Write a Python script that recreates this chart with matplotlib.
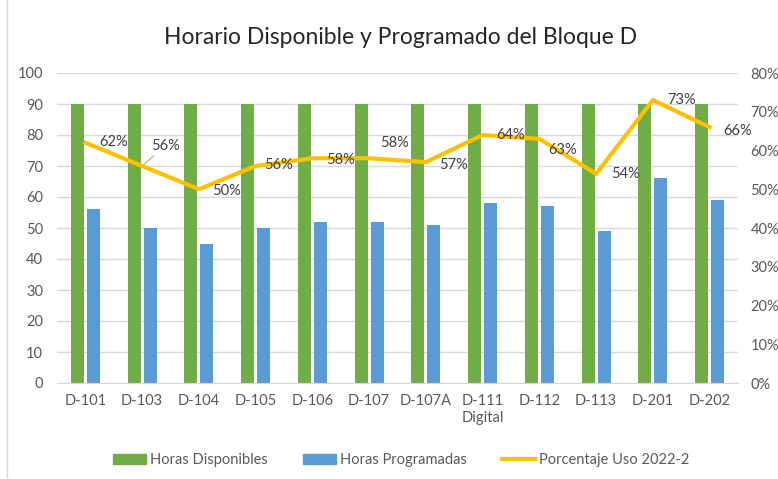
import matplotlib

matplotlib.use("Agg")
import matplotlib.pyplot as plt
from matplotlib.lines import Line2D
from matplotlib.ticker import PercentFormatter

salones = ["D-101", "D-103", "D-104", "D-105", "D-106", "D-107", "D-107A",
           "D-111\nDigital", "D-112", "D-113", "D-201", "D-202"]
horas_disponibles = [90, 90, 90, 90, 90, 90, 90, 90, 90, 90, 90, 90]
horas_programadas = [56, 50, 45, 50, 52, 52, 51, 58, 57, 49, 66, 59]
porcentaje_uso = [0.62, 0.56, 0.50, 0.56, 0.58, 0.58, 0.57, 0.64, 0.63, 0.54, 0.73, 0.66]

# label offsets in pixels (dx, dy)
label_offsets = [(28, 1), (23, 20), (28, -2), (23, 1), (28, -2), (25, 15),
                 (28, -3), (28, 0), (23, -11), (29, 0), (29, 0), (28, -4)]

GREEN = "#70AD47"
BLUE = "#5B9BD5"
YELLOW = "#FFC000"
TXT = "#595959"

plt.rcParams["font.family"] = ["Lato", "DejaVu Sans"]

fig = plt.figure(figsize=(7.78, 4.79), dpi=100)
ax = fig.add_axes([57 / 778, 1 - 383 / 479, (738 - 57) / 778, (383 - 73) / 479])
ax2 = ax.twinx()

x = list(range(len(salones)))
w = 0.23
ax.bar([i - 0.14 for i in x], horas_disponibles, width=w, color=GREEN,
       label="Horas Disponibles", zorder=2)
ax.bar([i + 0.14 for i in x], horas_programadas, width=w, color=BLUE,
       label="Horas Programadas", zorder=2)

ax.set_xlim(-0.5, len(salones) - 0.5)
ax.set_ylim(0, 100)
ax.set_yticks(range(0, 101, 10))
ax.set_xticks(x)
ax.set_xticklabels(salones, fontsize=10.5, color=TXT, linespacing=1.3)
ax.tick_params(axis="both", length=0, labelsize=10.5, colors=TXT)
ax.tick_params(axis="x", pad=8)
ax.tick_params(axis="y", pad=10)
ax.grid(axis="y", color="#D9D9D9", linewidth=1, zorder=0)
ax.set_axisbelow(True)
for s in ["top", "left", "right"]:
    ax.spines[s].set_visible(False)
ax.spines["bottom"].set_color("#D9D9D9")

ax2.plot(x, porcentaje_uso, color=YELLOW, linewidth=3, label="Porcentaje Uso 2022-2",
         solid_joinstyle="miter", zorder=3)
ax2.set_ylim(0, 0.8)
ax2.set_yticks([i / 10 for i in range(0, 9)])
ax2.yaxis.set_major_formatter(PercentFormatter(1.0, decimals=0))
ax2.tick_params(axis="y", length=0, labelsize=10.5, colors=TXT, pad=9)
for s in ["top", "left", "right", "bottom"]:
    ax2.spines[s].set_visible(False)

for i, (v, off) in enumerate(zip(porcentaje_uso, label_offsets)):
    props = None
    if i == 1:
        props = dict(arrowstyle="-", color="#A6A6A6", linewidth=0.8,
                     shrinkA=0, shrinkB=2)
    ax2.annotate(f"{v:.0%}", (i, v), xytext=off, textcoords="offset pixels",
                 ha="center", va="center", fontsize=10.5, color="#404040",
                 arrowprops=props, zorder=4)

fig.suptitle("Horario Disponible y Programado del Bloque D", x=401 / 778, y=1 - 38 / 479,
             va="center", fontsize=16.5, color="#262626")

handles = [
    plt.Rectangle((0, 0), 1, 1, color=GREEN),
    plt.Rectangle((0, 0), 1, 1, color=BLUE),
    Line2D([0], [0], color=YELLOW, linewidth=3),
]
labels = ["Horas Disponibles", "Horas Programadas", "Porcentaje Uso 2022-2"]
leg = fig.legend(handles, labels, loc="center", bbox_to_anchor=(401 / 778, 1 - 460 / 479),
                 ncol=3, frameon=False, fontsize=10.5, handlelength=2.3, handleheight=0.65,
                 columnspacing=2.4, handletextpad=0.25)
for t in leg.get_texts():
    t.set_color(TXT)

fig.add_artist(Line2D([7 / 778, 7 / 778], [0.005, 1], transform=fig.transFigure,
                      color="#D9D9D9", linewidth=1))

fig.savefig("out.png", dpi=100)
